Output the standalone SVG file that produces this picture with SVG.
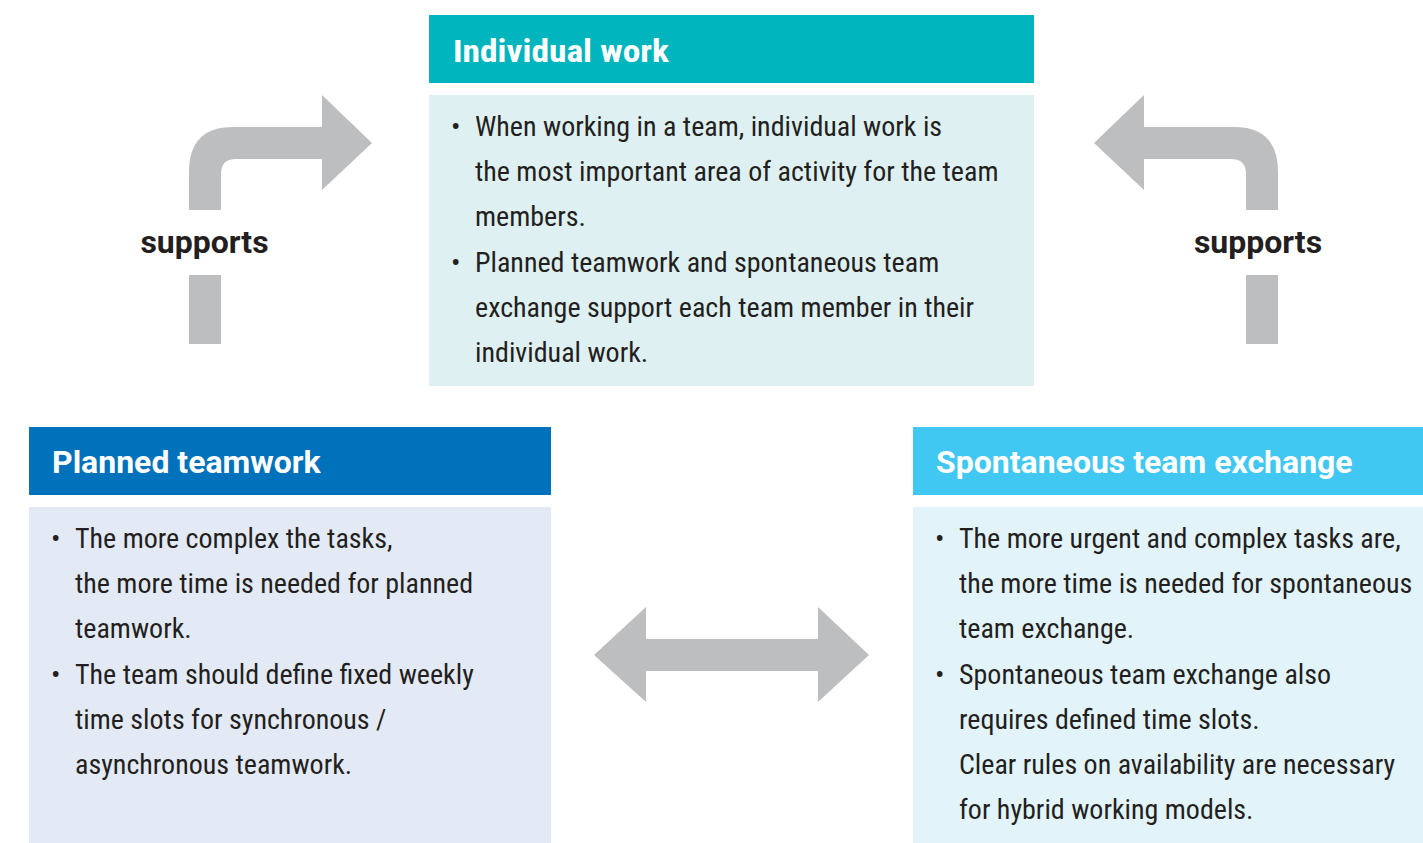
<svg xmlns="http://www.w3.org/2000/svg" width="1423" height="843" viewBox="0 0 1423 843">
  <style>
    .head { font-family: Roboto, "Liberation Sans", sans-serif; font-weight: 700; font-size: 32px; fill: #ffffff; }
    .body { font-family: Roboto, "Liberation Sans", sans-serif; font-size: 28px; fill: #231f20; font-stretch: condensed; }
    .label { font-family: Roboto, "Liberation Sans", sans-serif; font-weight: 700; font-size: 32px; fill: #231f20; text-anchor: middle; }
    .arrow { fill: #bcbec0; }
  </style>

  <!-- connectors -->
  <g id="connectors">
    <!-- bent arrow: planned teamwork supports individual work -->
    <g id="support-left">
      <path class="arrow" d="M189,210 L189,172 Q189,127 233,127 L322,127 L322,95 L372,143 L322,190 L322,159 L236,159 Q221,159 221,174 L221,210 Z"/>
      <rect class="arrow" x="189" y="275" width="32" height="69"/>
      <text class="label" x="204.5" y="253">supports</text>
    </g>
    <!-- bent arrow: spontaneous team exchange supports individual work -->
    <g id="support-right">
      <path class="arrow" d="M1278,210 L1278,172 Q1278,127 1234,127 L1144,127 L1144,95 L1094,143 L1144,190 L1144,159 L1231,159 Q1246,159 1246,174 L1246,210 Z"/>
      <rect class="arrow" x="1246" y="275" width="32" height="69"/>
      <text class="label" x="1258" y="253">supports</text>
    </g>
    <!-- two-way arrow between the two team modes -->
    <path id="exchange" class="arrow" d="M594,655 L646,607 L646,639 L818,639 L818,607 L869,655 L818,702 L818,671 L646,671 L646,702 Z"/>
  </g>

  <!-- individual work -->
  <g id="individual-work">
    <rect x="429" y="15" width="605" height="68" fill="#00b5bd"/>
    <text class="head" x="453" y="62" font-size="34" style="font-stretch: condensed" textLength="216" lengthAdjust="spacingAndGlyphs">Individual work</text>
    <rect x="429" y="95" width="605" height="291" fill="#dff0f2"/>
    <g class="body">
      <text x="451" y="136">•</text>
      <text x="475" y="136">When working in a team, individual work is</text>
      <text x="475" y="181">the most important area of activity for the team</text>
      <text x="475" y="226">members.</text>
      <text x="451" y="272">•</text>
      <text x="475" y="272">Planned teamwork and spontaneous team</text>
      <text x="475" y="317">exchange support each team member in their</text>
      <text x="475" y="362">individual work.</text>
    </g>
  </g>

  <!-- planned teamwork -->
  <g id="planned-teamwork">
    <rect x="29" y="427" width="522" height="68" fill="#0072bc"/>
    <text class="head" x="52" y="473">Planned teamwork</text>
    <rect x="29" y="507" width="522" height="336" fill="#e3eaf5"/>
    <g class="body">
      <text x="51" y="548">•</text>
      <text x="75" y="548">The more complex the tasks,</text>
      <text x="75" y="593">the more time is needed for planned</text>
      <text x="75" y="638">teamwork.</text>
      <text x="51" y="684">•</text>
      <text x="75" y="684">The team should define fixed weekly</text>
      <text x="75" y="729">time slots for synchronous /</text>
      <text x="75" y="774">asynchronous teamwork.</text>
    </g>
  </g>

  <!-- spontaneous team exchange -->
  <g id="spontaneous-exchange">
    <rect x="913" y="427" width="510" height="68" fill="#41c8f2"/>
    <text class="head" x="936" y="473">Spontaneous team exchange</text>
    <rect x="913" y="507" width="510" height="336" fill="#e2f3fa"/>
    <g class="body">
      <text x="935" y="548">•</text>
      <text x="959" y="548">The more urgent and complex tasks are,</text>
      <text x="959" y="593">the more time is needed for spontaneous</text>
      <text x="959" y="638">team exchange.</text>
      <text x="935" y="684">•</text>
      <text x="959" y="684">Spontaneous team exchange also</text>
      <text x="959" y="729">requires defined time slots.</text>
      <text x="959" y="774">Clear rules on availability are necessary</text>
      <text x="959" y="819">for hybrid working models.</text>
    </g>
  </g>
</svg>
